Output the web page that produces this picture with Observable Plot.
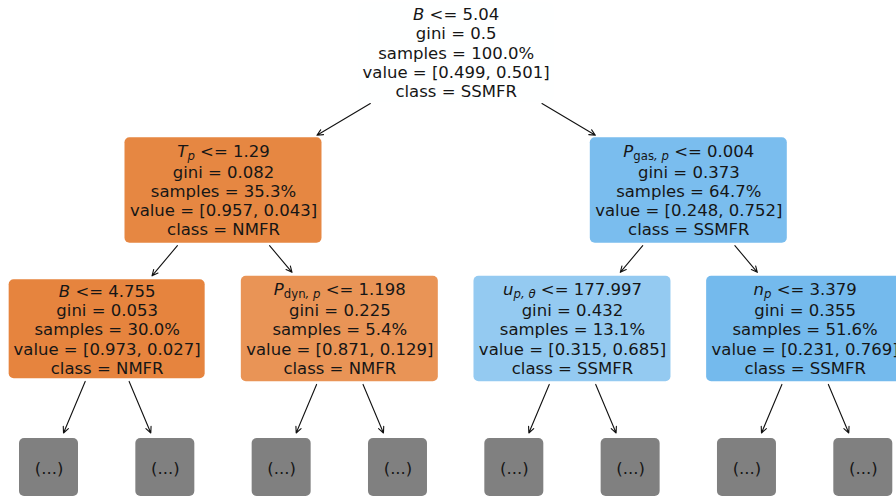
<!DOCTYPE html>
<html>
<head>
<meta charset="utf-8">
<script src="https://cdn.jsdelivr.net/npm/d3@7"></script>
<script src="https://cdn.jsdelivr.net/npm/@observablehq/plot@0.6"></script>
<style>
  body { margin: 0; background: #ffffff; }
  #chart svg { display: block; }
</style>
</head>
<body>
<div id="chart"></div>
<script>
// Decision nodes in breadth-first order: node i has children 2i+1 and 2i+2.
const splitSymbol = ["B", "T", "P", "B", "P", "u", "n"];
const splitSubscript = ["", "p", "gas, p", "", "dyn, p", "p, θ", "p"];
const splitThreshold = [5.04, 1.29, 0.004, 4.755, 1.198, 177.997, 3.379];
const giniIndex = [0.5, 0.082, 0.373, 0.053, 0.225, 0.432, 0.355];
const samplesPercent = [100.0, 35.3, 64.7, 30.0, 5.4, 13.1, 51.6];
const valueNMFR = [0.499, 0.957, 0.248, 0.973, 0.871, 0.315, 0.231];
const valueSSMFR = [0.501, 0.043, 0.752, 0.027, 0.129, 0.685, 0.769];
const classNames = ["NMFR", "SSMFR"];
const classColors = ["#e58139", "#399de5"];
const maxDepth = 3; // subtrees below this depth are collapsed into "(...)"

// ---- tree layout -------------------------------------------------------
const nodeCount = 2 ** (maxDepth + 1) - 1;
const firstCollapsed = 2 ** maxDepth - 1;
const nodes = d3.range(nodeCount).map(id => ({
  id,
  depth: Math.floor(Math.log2(id + 1)),
  truncated: id >= firstCollapsed
}));

// collapsed nodes sit in slot order; a parent is centred over its children
function place(id) {
  const n = nodes[id];
  n.x = n.truncated ? id - firstCollapsed : (place(2 * id + 1) + place(2 * id + 2)) / 2;
  return n.x;
}
place(0);

// scale spans (pixels) and conversion of pixel sizes into data units
const W = 896, H = 496;
const xRange = [48.5, 862.8];
const yRange = [52, 467];
const slots = 2 ** maxDepth - 1;
const perPxX = slots / (xRange[1] - xRange[0]);
const perPxY = maxDepth / (yRange[1] - yRange[0]);

const fontSize = 16.5;
const lineHeight = 1.165;

nodes.forEach(n => {
  const i = n.id;
  let half;
  if (n.truncated) {
    n.label = "(...)";
    half = {w: 29.5, top: 29, bottom: 29};
  } else {
    const v = [valueNMFR[i], valueSSMFR[i]];
    const k = v[1] > v[0] ? 1 : 0;
    const alpha = (v[k] - v[1 - k]) / (1 - v[1 - k]);
    n.purity = k === 1 ? alpha : -alpha;
    n.hasSub = splitSubscript[i] !== "";
    n.label = [
      `${splitSymbol[i]}${splitSubscript[i]} <= ${splitThreshold[i]}`,
      `gini = ${giniIndex[i]}`,
      `samples = ${samplesPercent[i].toFixed(1)}%`,
      `value = [${v[0].toFixed(3)}, ${v[1].toFixed(3)}]`,
      `class = ${classNames[k]}`
    ].join("\n");
    half = n.hasSub ? {w: 98.5, top: 53, bottom: 52.5} : {w: 98, top: 49.5, bottom: 49.5};
  }
  n.x1 = n.x - half.w * perPxX;
  n.x2 = n.x + half.w * perPxX;
  n.y1 = n.depth - half.top * perPxY;
  n.y2 = n.depth + half.bottom * perPxY;
});

// edges run along the line joining box centres, from the parent's lower edge
// to the child's upper edge
const edges = nodes.filter(n => n.id > 0).map(c => {
  const p = nodes[(c.id - 1) >> 1];
  const dx = c.x - p.x, dy = c.depth - p.depth;
  const t0 = (p.y2 - p.depth) / dy;
  const t1 = (c.y1 - p.depth) / dy;
  return {
    x1: p.x + dx * t0, y1: p.y2,
    x2: p.x + dx * t1, y2: c.y1,
    truncated: c.truncated
  };
});

const decisionNodes = nodes.filter(n => !n.truncated);
const collapsedNodes = nodes.filter(n => n.truncated);

const arrowStyle = {
  x1: "x1", y1: "y1", x2: "x2", y2: "y2",
  stroke: "#111111", strokeWidth: 1.1,
  headLength: 9, headAngle: 50, insetStart: 3
};

const chart = Plot.plot({
  width: W,
  height: H,
  margin: 0,
  x: {domain: [0, slots], range: xRange, axis: null},
  y: {domain: [0, maxDepth], range: yRange, axis: null},
  color: {
    type: "linear",
    domain: [-1, 0, 1],
    range: [classColors[0], "#ffffff", classColors[1]],
    interpolate: d3.interpolateRgb
  },
  style: {fontFamily: "'DejaVu Sans', sans-serif", background: "#ffffff"},
  marks: [
    Plot.arrow(edges.filter(e => !e.truncated), {...arrowStyle, insetEnd: 5}),
    Plot.arrow(edges.filter(e => e.truncated), {...arrowStyle, insetEnd: 6}),
    Plot.rect(decisionNodes, {x1: "x1", x2: "x2", y1: "y1", y2: "y2", fill: "purity", rx: 5}),
    Plot.rect(collapsedNodes, {x1: "x1", x2: "x2", y1: "y1", y2: "y2", fill: "#808080", rx: 5}),
    Plot.text(nodes, {
      x: "x", y: "depth", text: "label",
      fontSize, lineHeight, fill: "#161616"
    })
  ]
});

// Typeset the split condition: italic variable with an optional subscript.
// A subscripted condition sits slightly higher to leave room for the subscript.
const SVGNS = "http://www.w3.org/2000/svg";
function span(parent, text, attrs = {}) {
  const t = document.createElementNS(SVGNS, "tspan");
  for (const [k, v] of Object.entries(attrs)) t.setAttribute(k, v);
  t.textContent = text;
  parent.appendChild(t);
  return t;
}
const subDrop = 3.5, subLift = 2;
const labelTexts = Array.from(chart.querySelectorAll("text"))
  .filter(t => t.querySelector("tspan") || t.textContent === "(...)");
labelTexts.forEach((el, j) => {
  if (!nodes[j] || nodes[j].truncated) return;
  const lines = el.querySelectorAll("tspan");
  const line = lines[0];
  if (!line) return;
  line.textContent = "";
  const sub = splitSubscript[j];
  if (sub) {
    span(line, splitSymbol[j], {"font-style": "italic", dy: String(-subLift)});
    sub.split(", ").forEach((part, m) => {
      const attrs = {"font-size": `${(fontSize * 0.71).toFixed(2)}px`};
      if (m === 0) attrs.dy = String(subDrop);
      if (part.length === 1) attrs["font-style"] = "italic";
      span(line, (m > 0 ? ", " : "") + part, attrs);
    });
    span(line, ` <= ${splitThreshold[j]}`, {dy: String(-subDrop)});
    // the next line keeps its usual distance from the un-lifted baseline
    if (lines[1]) lines[1].setAttribute("dy", String(fontSize * lineHeight + subLift));
  } else {
    span(line, splitSymbol[j], {"font-style": "italic"});
    span(line, ` <= ${splitThreshold[j]}`);
  }
});

document.getElementById("chart").appendChild(chart);
</script>
</body>
</html>
